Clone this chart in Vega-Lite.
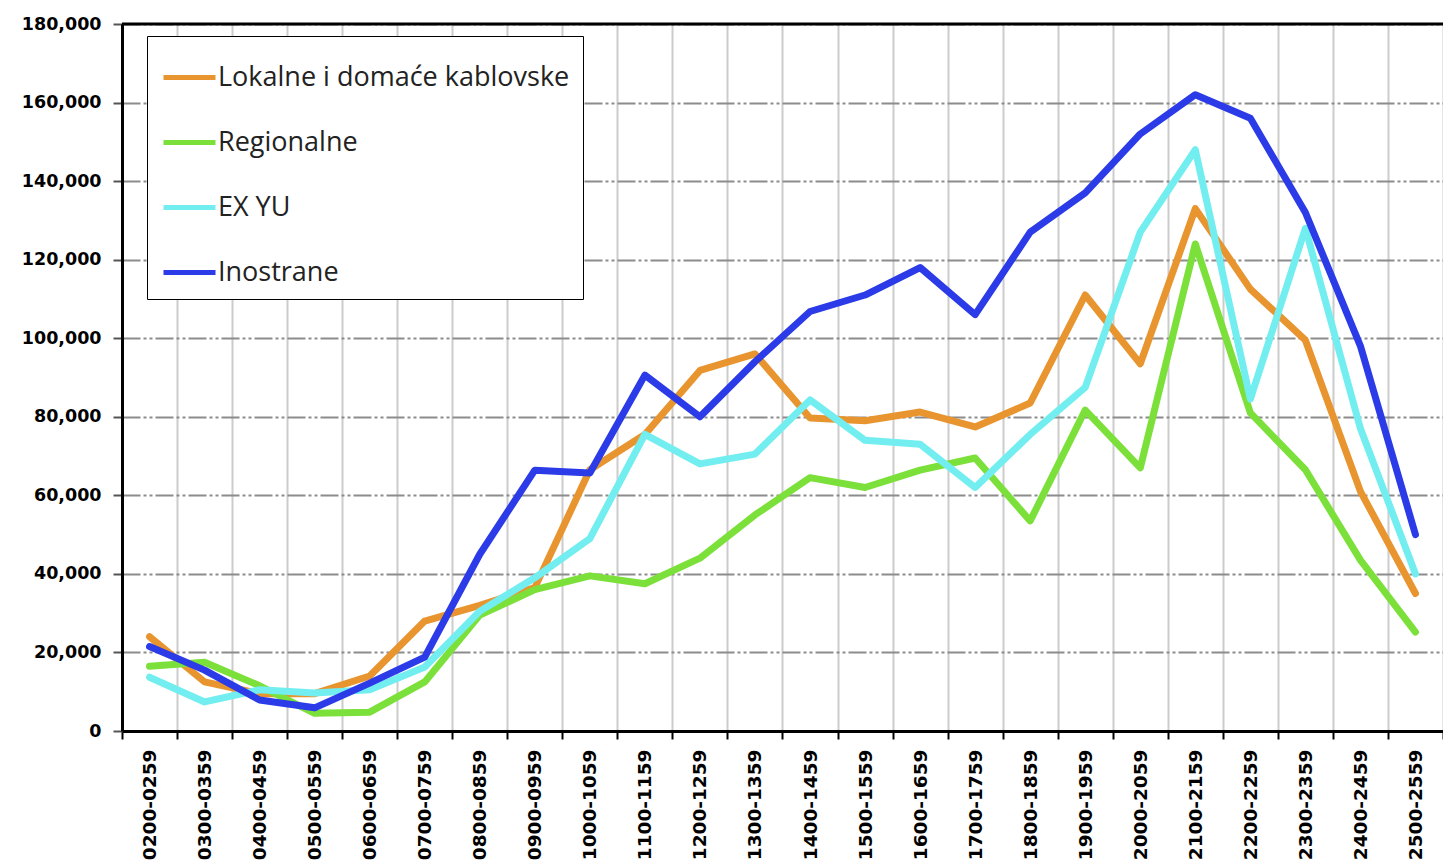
{
  "$schema": "https://vega.github.io/schema/vega-lite/v6.json",
  "width": 1321,
  "height": 707,
  "autosize": {"type": "none"},
  "padding": {"left": 122, "top": 24, "right": 0, "bottom": 135},
  "background": "white",
  "config": {"view": {"stroke": null}},
  "layer": [
    {
      "data": {
        "values": [
          {"t": "0200-0259", "Lokalne i domaće kablovske": 24000, "Regionalne": 16500, "EX YU": 13700, "Inostrane": 21500},
          {"t": "0300-0359", "Lokalne i domaće kablovske": 12500, "Regionalne": 17500, "EX YU": 7400, "Inostrane": 15500},
          {"t": "0400-0459", "Lokalne i domaće kablovske": 9500, "Regionalne": 11500, "EX YU": 10500, "Inostrane": 7900},
          {"t": "0500-0559", "Lokalne i domaće kablovske": 9500, "Regionalne": 4500, "EX YU": 9700, "Inostrane": 5900},
          {"t": "0600-0659", "Lokalne i domaće kablovske": 14000, "Regionalne": 4800, "EX YU": 10500, "Inostrane": 12200},
          {"t": "0700-0759", "Lokalne i domaće kablovske": 28000, "Regionalne": 12500, "EX YU": 16300, "Inostrane": 18800},
          {"t": "0800-0859", "Lokalne i domaće kablovske": 32000, "Regionalne": 29500, "EX YU": 30500, "Inostrane": 45000},
          {"t": "0900-0959", "Lokalne i domaće kablovske": 36500, "Regionalne": 36000, "EX YU": 39000, "Inostrane": 66400},
          {"t": "1000-1059", "Lokalne i domaće kablovske": 66500, "Regionalne": 39500, "EX YU": 49000, "Inostrane": 65700},
          {"t": "1100-1159", "Lokalne i domaće kablovske": 75500, "Regionalne": 37500, "EX YU": 75500, "Inostrane": 90600},
          {"t": "1200-1259", "Lokalne i domaće kablovske": 91800, "Regionalne": 44000, "EX YU": 68000, "Inostrane": 80000},
          {"t": "1300-1359", "Lokalne i domaće kablovske": 96000, "Regionalne": 55000, "EX YU": 70500, "Inostrane": 94000},
          {"t": "1400-1459", "Lokalne i domaće kablovske": 79700, "Regionalne": 64500, "EX YU": 84300, "Inostrane": 106800},
          {"t": "1500-1559", "Lokalne i domaće kablovske": 79000, "Regionalne": 62000, "EX YU": 74000, "Inostrane": 111000},
          {"t": "1600-1659", "Lokalne i domaće kablovske": 81200, "Regionalne": 66400, "EX YU": 73000, "Inostrane": 118000},
          {"t": "1700-1759", "Lokalne i domaće kablovske": 77400, "Regionalne": 69500, "EX YU": 62000, "Inostrane": 106000},
          {"t": "1800-1859", "Lokalne i domaće kablovske": 83500, "Regionalne": 53500, "EX YU": 75500, "Inostrane": 127000},
          {"t": "1900-1959", "Lokalne i domaće kablovske": 111000, "Regionalne": 81700, "EX YU": 87500, "Inostrane": 137000},
          {"t": "2000-2059", "Lokalne i domaće kablovske": 93500, "Regionalne": 67000, "EX YU": 127000, "Inostrane": 152000},
          {"t": "2100-2159", "Lokalne i domaće kablovske": 133000, "Regionalne": 124000, "EX YU": 148000, "Inostrane": 162000},
          {"t": "2200-2259", "Lokalne i domaće kablovske": 112500, "Regionalne": 81000, "EX YU": 84500, "Inostrane": 156000},
          {"t": "2300-2359", "Lokalne i domaće kablovske": 99500, "Regionalne": 66500, "EX YU": 128000, "Inostrane": 132000},
          {"t": "2400-2459", "Lokalne i domaće kablovske": 61000, "Regionalne": 43500, "EX YU": 77000, "Inostrane": 98000},
          {"t": "2500-2559", "Lokalne i domaće kablovske": 35000, "Regionalne": 25200, "EX YU": 40000, "Inostrane": 50000}
        ]
      },
      "transform": [
        {"fold": ["Lokalne i domaće kablovske", "Regionalne", "EX YU", "Inostrane"], "as": ["serija", "vrednost"]}
      ],
      "mark": {"type": "line", "strokeWidth": 7, "strokeJoin": "round", "strokeCap": "round"},
      "encoding": {
        "x": {
          "field": "t",
          "type": "ordinal",
          "scale": {"type": "band", "paddingInner": 0, "paddingOuter": 0},
          "axis": {
            "title": null,
            "tickBand": "extent",
            "grid": true,
            "gridColor": "#cccccc",
            "gridWidth": 2,
            "domainColor": "black",
            "domainWidth": 3,
            "tickColor": "black",
            "tickWidth": 2,
            "tickSize": 8,
            "labelAngle": -90,
            "labelFont": "DejaVu Sans",
            "labelFontWeight": "bold",
            "labelFontSize": 18.5,
            "labelColor": "black",
            "labelPadding": 10
          }
        },
        "y": {
          "field": "vrednost",
          "type": "quantitative",
          "scale": {"domain": [0, 180000], "nice": false},
          "axis": {
            "title": null,
            "values": [0, 20000, 40000, 60000, 80000, 100000, 120000, 140000, 160000, 180000],
            "format": ",.0f",
            "grid": true,
            "gridColor": "#8c8c8c",
            "gridWidth": 2,
            "gridDash": [18, 3, 3, 3, 3, 3],
            "domainColor": "black",
            "domainWidth": 3,
            "tickColor": "#555555",
            "tickWidth": 2,
            "tickSize": 9,
            "labelFont": "DejaVu Sans",
            "labelFontWeight": "bold",
            "labelFontSize": 17.5,
            "labelColor": "black",
            "labelPadding": 12
          }
        },
        "color": {
          "field": "serija",
          "type": "nominal",
          "sort": ["Lokalne i domaće kablovske", "Regionalne", "EX YU", "Inostrane"],
          "scale": {
            "domain": ["Lokalne i domaće kablovske", "Regionalne", "EX YU", "Inostrane"],
            "range": ["#E8952F", "#7CE03A", "#72EEF0", "#2B3BE8"]
          },
          "legend": {
            "title": null,
            "orient": "none",
            "legendX": 25,
            "legendY": 12,
            "symbolType": "stroke",
            "symbolSize": 2704,
            "symbolStrokeWidth": 5,
            "labelFont": "Open Sans",
            "labelFontSize": 27,
            "labelColor": "#222222",
            "labelOffset": 0,
            "labelLimit": 600,
            "rowPadding": 23,
            "padding": 13,
            "symbolOffset": 1,
            "strokeColor": "black",
            "fillColor": "white"
          }
        }
      }
    },
    {
      "data": {"values": [{}]},
      "mark": {"type": "rule", "color": "black", "strokeWidth": 3},
      "encoding": {"y": {"datum": 180000}}
    }
  ]
}
